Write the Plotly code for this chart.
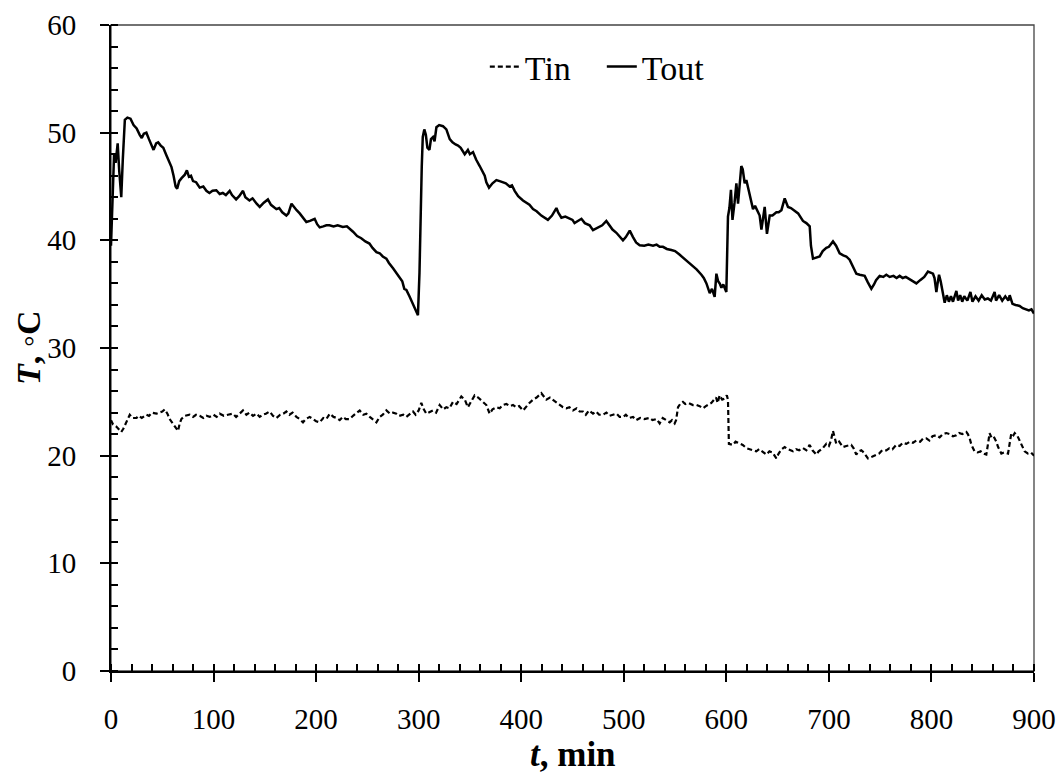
import plotly.graph_objects as go

# Outlet temperature, T_out (°C) versus time (min)
t_out = [0, 1.5, 3, 4.5, 6.5, 8, 10, 11.5, 13.5, 16, 19, 22, 25, 28, 30, 32, 34.5, 37, 40, 41.5,
         44, 46, 48.5, 51, 54, 57, 59, 61, 63, 64.5, 66.5, 69, 72, 74, 76, 78, 80, 83, 86.5, 90,
         93, 96, 99, 102.7, 106, 109, 112, 115.7, 118, 122, 125, 128.7, 131, 135, 138, 142, 145, 149, 153, 156,
         161.3, 164, 167, 171, 173, 176, 178, 181, 184, 187, 190.5, 194, 198.6, 201, 203.5, 207, 210, 213, 217, 221,
         226, 230, 232.7, 236, 240, 244, 248, 252, 255, 258.8, 262, 265, 268.5, 271, 275, 278, 281.5, 284, 286, 288,
         291, 294.5, 297, 299.3, 300.8, 302, 303, 304, 305.5, 307, 308.5, 310.5, 312, 314, 315.5, 317.3, 320, 323.7, 327, 330.3,
         333, 336, 338.4, 341, 344.9, 348, 350, 353, 356, 359.5, 362, 364.4, 366, 368.6, 372, 375.8, 379, 382.2, 385, 388.7,
         391, 393.6, 397, 401.7, 405, 408, 411.5, 415, 419.6, 423, 426, 430, 432, 434.3, 436, 439.2, 443, 447, 450, 452,
         455, 458.7, 462, 466.7, 470, 473, 476, 479, 483, 486, 489, 492.8, 496, 499.2, 502, 505.8, 509, 512, 515.5, 520,
         524, 528.5, 532, 535, 538.2, 542, 546.4, 550, 554, 557.7, 561, 564, 567.5, 571, 575.7, 578, 580.6, 583.8, 586, 588.6,
         590.3, 592, 593.5, 595.2, 597, 600, 601.6, 603, 604.5, 606, 608, 609.8, 611.4, 613, 614.6, 616, 617.9, 619.5, 621, 623,
         626, 628, 630.9, 632.5, 634.2, 636, 637.4, 639.6, 642.3, 645, 648.8, 651, 653.7, 656.9, 660.1, 663, 666.6, 670, 674.7, 678,
         681.3, 682.5, 684.5, 688, 691, 694, 697.5, 700, 704, 707, 710.5, 714, 717, 720.2, 723, 726.8, 730, 734.9, 738, 741.4,
         744, 746, 749.5, 753, 756, 759.3, 763, 766, 769, 772, 775, 778.8, 782, 785.3, 789, 793, 796.6, 799, 801.5, 803,
         804.8, 806, 807.4, 809, 811, 812.9, 815, 817, 819, 821, 824.3, 826, 828, 830, 832, 835, 838, 840, 843, 846,
         849, 852, 855, 858, 861.6, 863, 866, 869, 872, 875, 876.3, 879, 882, 886, 889, 892, 895, 897.5, 900]
T_out = [39.5, 44.5, 48.0, 47.2, 49.0, 46.5, 44.0, 47.5, 51.2, 51.4, 51.3, 50.7, 50.4, 49.8, 49.5, 49.9, 50.0, 49.4, 48.6, 48.4,
         49.0, 49.1, 48.8, 48.6, 47.9, 47.3, 46.8, 46.0, 45.0, 44.8, 45.5, 45.8, 46.1, 46.5, 45.9, 46.0, 45.5, 45.4, 44.9, 45.0,
         44.6, 44.4, 44.6, 44.65, 44.3, 44.4, 44.2, 44.6, 44.2, 43.8, 44.1, 44.6, 44.0, 43.7, 43.9, 43.4, 43.1, 43.5, 43.8, 43.3,
         42.9, 43.0, 42.6, 42.3, 42.5, 43.4, 43.2, 42.8, 42.5, 42.1, 41.7, 41.8, 42.0, 41.5, 41.2, 41.3, 41.4, 41.4, 41.3, 41.4,
         41.25, 41.3, 41.1, 40.8, 40.4, 40.2, 39.9, 39.7, 39.3, 38.9, 38.8, 38.5, 38.3, 37.9, 37.4, 37.0, 36.5, 36.2, 35.5, 35.4,
         34.8, 34.1, 33.6, 33.05, 37.0, 45.0, 46.8, 49.6, 50.3, 49.8, 48.6, 48.4, 49.4, 49.6, 49.2, 50.5, 50.7, 50.6, 50.3, 49.4,
         49.1, 48.9, 48.8, 48.6, 48.0, 48.4, 48.0, 48.2, 47.5, 46.9, 46.4, 46.0, 45.4, 44.9, 45.3, 45.6, 45.5, 45.4, 45.3, 45.0,
         45.1, 44.6, 44.1, 43.7, 43.5, 43.3, 42.9, 42.7, 42.3, 42.1, 41.9, 42.3, 42.6, 43.0, 42.6, 42.1, 42.2, 42.0, 41.9, 41.6,
         41.8, 42.0, 41.6, 41.4, 40.95, 41.1, 41.2, 41.4, 41.8, 41.4, 41.0, 40.7, 40.3, 40.0, 40.3, 40.9, 40.3, 39.8, 39.55, 39.5,
         39.6, 39.5, 39.6, 39.4, 39.4, 39.2, 39.1, 39.0, 38.7, 38.4, 38.1, 37.9, 37.6, 37.3, 36.8, 36.5, 36.0, 35.1, 35.5, 34.75,
         36.9, 36.2, 36.0, 35.6, 35.9, 35.2, 42.2, 43.0, 44.7, 41.9, 43.5, 45.3, 43.4, 45.0, 46.9, 46.6, 45.3, 45.6, 45.0, 44.3,
         42.9, 43.2, 42.6, 42.3, 41.0, 42.0, 43.1, 40.6, 42.3, 42.3, 42.6, 42.6, 42.8, 43.9, 43.1, 43.0, 42.7, 42.5, 41.8, 41.6,
         41.3, 39.5, 38.3, 38.4, 38.5, 39.0, 39.3, 39.4, 39.9, 39.5, 38.8, 38.6, 38.5, 38.2, 37.6, 36.9, 36.8, 36.7, 36.1, 35.5,
         35.9, 36.3, 36.7, 36.6, 36.8, 36.6, 36.7, 36.5, 36.7, 36.5, 36.6, 36.4, 36.2, 36.0, 36.3, 36.6, 37.1, 37.0, 36.9, 36.5,
         35.2, 36.0, 36.8, 36.2, 35.2, 34.2, 34.9, 34.3, 34.8, 34.3, 35.3, 34.4, 34.9, 34.3, 34.8, 34.4, 35.2, 34.3, 34.8, 34.4,
         34.9, 34.5, 34.6, 34.4, 35.2, 34.4, 34.9, 34.4, 34.8, 34.4, 34.9, 34.1, 34.0, 33.9, 33.7, 33.6, 33.5, 33.6, 33.2]

# Inlet temperature, T_in (°C) versus time (min)
t_in = [0, 2, 5.2, 8, 10, 12, 15, 18.3, 21, 24.8, 27, 30, 34.5, 37, 40, 44.2, 47, 50, 52.4, 55,
        57.2, 60, 62.1, 65.4, 67, 68.6, 72, 76.7, 80, 83, 86.5, 90, 93, 96.2, 100, 103, 106, 110, 114, 119,
        122, 125, 128.7, 132, 135, 138.5, 142, 145, 148, 151, 154.7, 158, 161.3, 165, 168, 171, 174, 177, 180.8, 184,
        187.2, 190, 193.7, 197, 200, 203.5, 207, 210, 213.3, 217, 220, 223, 226, 229, 232.8, 236, 239, 242.5, 246, 249,
        252.3, 255, 258.8, 262, 265, 268.5, 272, 275, 278.3, 281, 285, 288, 291, 294.5, 297, 300, 302.6, 305, 307.5, 311,
        314, 317, 320.5, 324, 327, 330, 333.5, 337, 339, 341.6, 345, 348, 351, 354.6, 358, 362.7, 366, 369.2, 372, 375.8,
        379, 382, 385.5, 389, 392, 395.3, 398, 401.8, 405, 408, 411.5, 415, 419.6, 422, 424.5, 428, 431, 434.3, 437, 440.7,
        444, 447, 450.5, 454, 457, 460.2, 463, 466, 470, 473, 476, 479.7, 483, 486, 489.5, 493, 496, 499.2, 502, 505,
        509, 512.2, 516, 520, 525.2, 528, 532, 535, 538, 541, 544.8, 547, 549.6, 551, 552.9, 555, 557.7, 560, 563, 567.5,
        571, 574, 577.2, 580, 583, 585.4, 588, 590, 591.5, 593.5, 596, 598.4, 600.5, 601.6, 602.5, 606.5, 609, 613, 616, 619.5,
        623, 626, 629.3, 632, 636, 639, 642, 645, 648.8, 651, 654, 656.9, 660, 663, 665, 668, 671, 674.7, 678, 681.2,
        684, 687.8, 690, 694, 697.5, 700, 702, 704, 705.5, 707.2, 710, 713.7, 717, 721.8, 724, 726.7, 729, 731.6, 734, 738.1,
        742, 746.2, 749, 752, 756, 759, 762, 765.7, 769, 772, 775.5, 779, 782, 785.2, 789, 792, 795, 798, 801, 804.8,
        808, 811, 814.5, 818, 821, 824.3, 827, 830, 834, 835.5, 837.3, 839, 842.1, 845, 848, 850.3, 853.5, 855, 856.7, 858,
        860, 863.2, 865, 868.2, 871, 874.7, 876, 877.9, 880, 881.2, 884, 886, 888.5, 890.9, 894, 897, 899, 900]
T_in = [23.3, 22.9, 22.7, 22.4, 22.2, 22.5, 23.1, 23.8, 23.5, 23.5, 23.7, 23.5, 23.8, 23.7, 24.0, 23.9, 24.0, 24.1, 24.3, 23.9,
        23.4, 23.0, 22.7, 22.3, 23.0, 23.4, 23.7, 23.8, 23.6, 23.8, 23.7, 23.5, 23.7, 23.6, 23.8, 23.6, 23.9, 23.7, 23.8, 23.9,
        23.6, 23.9, 24.2, 23.8, 24.0, 23.7, 23.9, 23.6, 23.8, 23.9, 24.1, 23.7, 23.5, 23.8, 23.9, 24.1, 23.8, 24.0, 23.6, 23.4,
        23.1, 23.4, 23.6, 23.4, 23.2, 23.1, 23.5, 23.4, 23.9, 23.6, 23.5, 23.3, 23.6, 23.4, 23.4, 23.7, 23.9, 24.2, 23.8, 23.9,
        23.6, 23.4, 23.1, 23.6, 23.8, 24.2, 23.9, 24.0, 23.9, 23.7, 23.8, 23.6, 23.8, 24.1, 23.8, 24.2, 24.9, 24.3, 23.9, 24.1,
        24.2, 24.0, 24.7, 24.3, 24.5, 24.4, 25.0, 24.8, 25.1, 25.5, 25.2, 24.5, 25.0, 25.6, 25.4, 25.0, 24.7, 23.9, 24.3, 24.5,
        24.4, 24.7, 24.8, 24.6, 24.7, 24.5, 24.6, 24.2, 24.6, 24.9, 25.2, 25.4, 25.8, 25.5, 25.2, 25.4, 25.2, 25.0, 24.8, 24.5,
        24.4, 24.5, 24.2, 24.4, 24.1, 24.1, 23.8, 24.2, 23.9, 24.1, 23.8, 23.8, 24.0, 23.7, 23.8, 23.9, 23.6, 23.6, 23.8, 23.5,
        23.6, 23.3, 23.5, 23.4, 23.5, 23.3, 23.4, 23.0, 23.5, 23.3, 23.1, 23.3, 23.0, 23.3, 24.5, 24.8, 25.0, 24.8, 24.9, 24.7,
        24.7, 24.6, 24.4, 24.6, 24.8, 24.9, 25.2, 25.4, 24.9, 25.6, 25.2, 25.3, 25.6, 25.2, 21.1, 21.0, 21.3, 21.1, 21.0, 20.7,
        20.6, 20.5, 20.4, 20.6, 20.3, 20.1, 20.4, 20.3, 19.75, 20.2, 20.6, 20.8, 20.6, 20.5, 20.4, 20.6, 20.5, 20.7, 20.5, 21.0,
        20.5, 20.1, 20.4, 20.7, 21.1, 20.9, 21.4, 22.3, 21.6, 21.1, 21.3, 20.8, 20.9, 21.0, 20.7, 20.1, 20.4, 20.5, 20.3, 19.75,
        19.9, 20.1, 20.2, 20.5, 20.5, 20.7, 20.6, 21.0, 20.9, 21.2, 21.1, 21.3, 21.2, 21.4, 21.3, 21.6, 21.6, 21.4, 21.8, 21.9,
        21.7, 22.0, 22.1, 22.0, 21.8, 21.9, 22.1, 22.0, 22.2, 22.0, 21.6, 21.0, 20.4, 20.3, 20.4, 20.2, 20.1, 21.0, 22.1, 21.8,
        21.9, 21.3, 20.8, 20.2, 20.3, 20.2, 21.0, 22.1, 21.9, 22.1, 21.8, 21.4, 20.8, 20.4, 20.2, 20.3, 20.1, 20.0]

x_ticks = [0, 100, 200, 300, 400, 500, 600, 700, 800, 900]
y_ticks = [0, 10, 20, 30, 40, 50, 60]

SERIF = "Liberation Serif"

fig = go.Figure()
fig.add_trace(go.Scatter(x=t_in, y=T_in, mode="lines", name="Tin",
                         line=dict(color="black", width=2.2, dash="5px,3px")))
fig.add_trace(go.Scatter(x=t_out, y=T_out, mode="lines", name="Tout",
                         line=dict(color="black", width=2.5)))

axis_common = dict(showgrid=False, zeroline=False, showline=True, linecolor="black", linewidth=2,
                   tickfont=dict(family=SERIF, size=29, color="black"),
                   ticks="outside", ticklen=9, tickwidth=2, tickcolor="black", automargin=False)

fig.update_layout(
    width=1063, height=773,
    margin=dict(l=111, r=29, t=25, b=102, autoexpand=False),
    paper_bgcolor="white", plot_bgcolor="white",
    font=dict(family=SERIF, color="black"),
    showlegend=True,
    legend=dict(orientation="h", x=0.405, xanchor="left", y=0.935, yanchor="middle",
                font=dict(family=SERIF, size=34, color="black"),
                bgcolor="rgba(0,0,0,0)", itemwidth=30, tracegroupgap=0,
                entrywidth=72, entrywidthmode="pixels"),
    xaxis=dict(range=[0, 900], tickvals=x_ticks, ticktext=[str(v) for v in x_ticks],
               minor=dict(ticks="inside", dtick=20, tick0=0, ticklen=7, tickwidth=1.5, tickcolor="black"),
               ticklabelstandoff=12, **axis_common),
    yaxis=dict(range=[0, 60], tickvals=y_ticks, ticktext=[str(v) for v in y_ticks],
               minor=dict(ticks="inside", dtick=2, tick0=0, ticklen=7, tickwidth=1.5, tickcolor="black"),
               ticklabelstandoff=18, **axis_common),
    # overlay axes that carry the inner half of the major ticks
    xaxis2=dict(range=[0, 900], overlaying="x", anchor="y", side="bottom", tickvals=x_ticks,
                showticklabels=False, ticks="inside", ticklen=9, tickwidth=2, tickcolor="black",
                showgrid=False, zeroline=False, showline=False, automargin=False),
    yaxis2=dict(range=[0, 60], overlaying="y", anchor="x", side="left", tickvals=y_ticks,
                showticklabels=False, ticks="inside", ticklen=9, tickwidth=2, tickcolor="black",
                showgrid=False, zeroline=False, showline=False, automargin=False),
    shapes=[dict(type="rect", xref="paper", yref="paper", x0=0, y0=0, x1=1, y1=1,
                 line=dict(color="#444444", width=1.3), layer="below")],
    annotations=[
        # axis titles
        dict(text="<b><i>t</i>, min</b>", xref="paper", yref="paper", x=0.5, y=-0.13,
             xanchor="center", yanchor="middle", showarrow=False,
             font=dict(family=SERIF, size=35, color="black")),
        dict(text="<b><i>T</i>,</b> ◦<b>C</b>", xref="paper", yref="paper", x=-0.09, y=0.5,
             xanchor="center", yanchor="middle", textangle=-90, showarrow=False,
             font=dict(family=SERIF, size=34, color="black")),
    ],
)

fig.write_html("out.html")
